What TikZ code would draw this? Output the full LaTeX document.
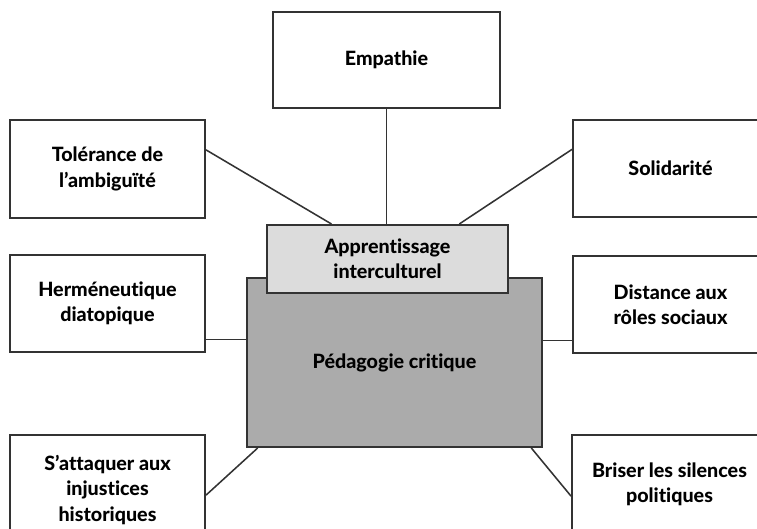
\documentclass[tikz,border=0pt]{standalone}
\usepackage{fontspec}
\setmainfont[Ligatures=NoCommon, BoldFont={Lato Heavy}]{Lato}
\usetikzlibrary{positioning,calc}
\definecolor{edge}{HTML}{333333}
\definecolor{appfill}{HTML}{DCDCDC}
\definecolor{pedfill}{HTML}{ABABAB}

\begin{document}
\begin{tikzpicture}[x=0.025cm, y=-0.025cm,
  box/.style={draw=edge, line width=1.4pt, rectangle, fill=white,
    align=center, inner sep=0pt,
    font=\bfseries\fontsize{14}{18}\selectfont},
  sz/.style 2 args={minimum width=#1*0.025cm, minimum height=#2*0.025cm},
  lnk/.style={draw=edge, line width=1.1pt},
]
\useasboundingbox (0,0) rectangle (757,528);
\clip (0,0) rectangle (757,528);
% outer boxes
\node[box, sz={227}{96}] (emp) at (386.5,60) {Empathie};
\node[box, sz={195}{98}] (tol) at (107.5,169) {Tolérance de\\l’ambiguïté};
\node[box, sz={195}{97}] (sol) at (670.5,168.5) {Solidarité};
\node[box, sz={195}{97}] (her) at (107.5,303.5) {Herméneutique\\diatopique};
\node[box, sz={195}{97}] (dis) at (670.5,304.5) {Distance aux\\rôles sociaux};
\node[box, sz={195}{110}] (att) at (107.5,490) {S’attaquer aux\\injustices\\historiques};
\node[box, sz={195}{98}] (bri) at (669.5,484) {Briser les silences\\politiques};
% centre
\node[box, sz={295}{169}, fill=pedfill] (ped) at (394.5,362.5) {Pédagogie critique};
\node[box, sz={241}{68}, fill=appfill] (app) at (387.5,259) {Apprentissage\\interculturel};
% links
\draw[lnk] (emp.south) -- (emp.south |- app.north);
\draw[lnk] (tol.11) -- (app.148.5);
\draw[lnk] (sol.169.3) -- (app.26.1);
\draw[lnk] (her.-20) -- (her.-20 -| ped.west);
\draw[lnk] (dis.-160.5) -- (dis.-160.5 -| ped.east);
\draw[lnk] (att.-3) -- (ped.212);
\draw[lnk] (bri.187.6) -- (ped.-32.5);
\end{tikzpicture}
\end{document}
